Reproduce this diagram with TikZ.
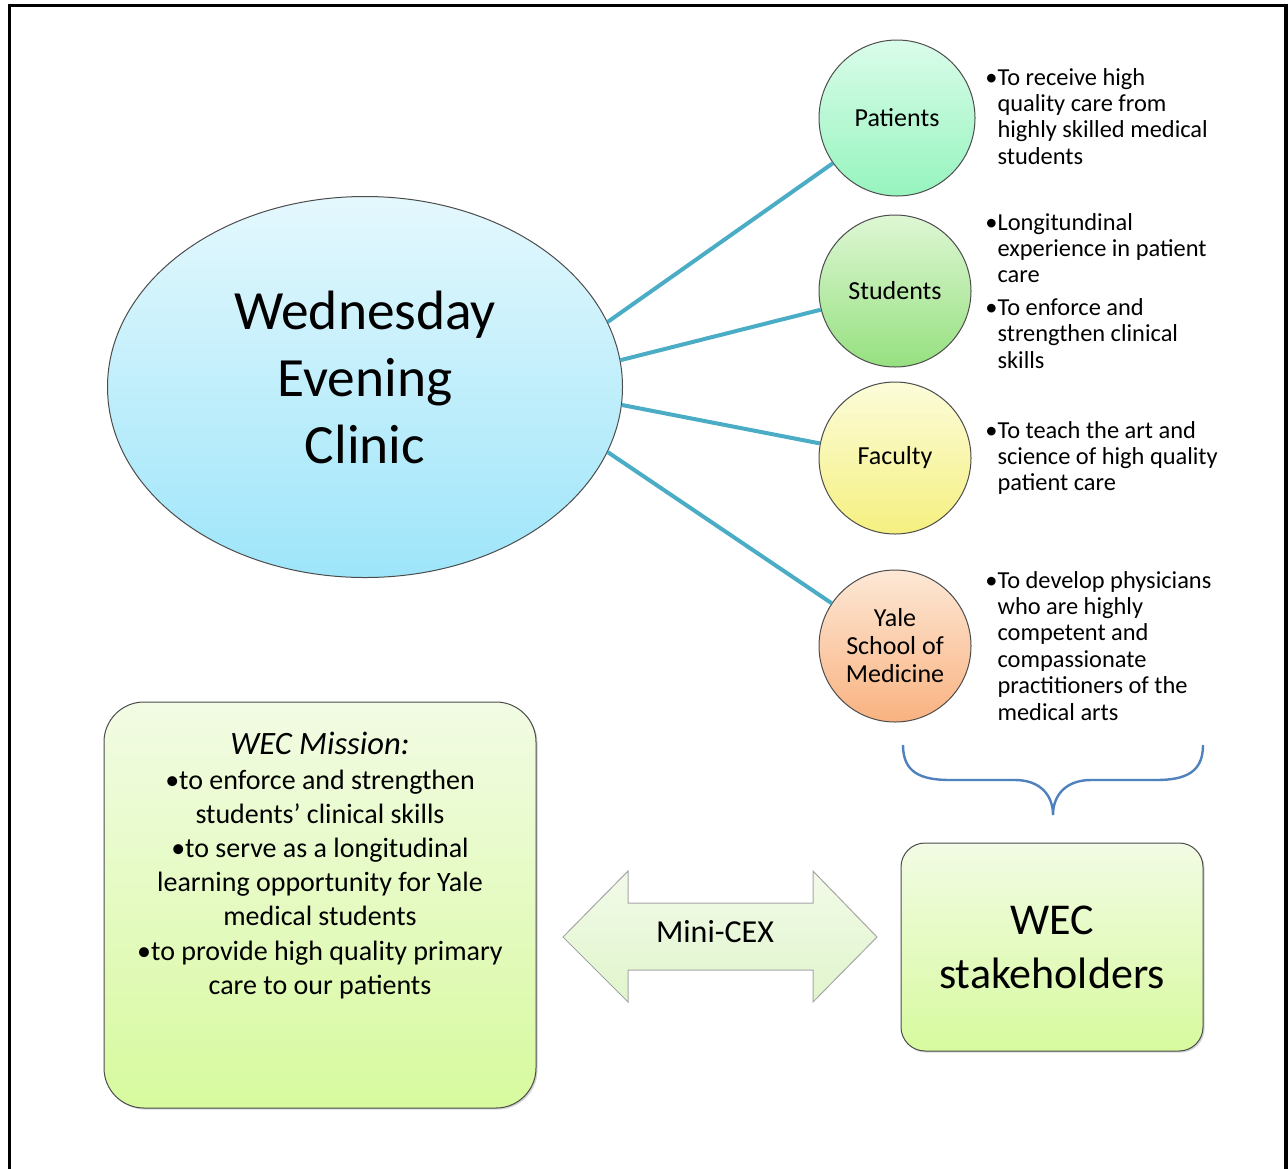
\documentclass[tikz,border=0pt]{standalone}
\usepackage{fontspec}
\setmainfont{Carlito}
\usepackage{xcolor}
\definecolor{linkteal}{RGB}{75,172,198}
\definecolor{bracesteel}{RGB}{79,129,189}
\definecolor{wectop}{RGB}{228,248,253}
\definecolor{wecbot}{RGB}{158,229,250}
\definecolor{pattop}{RGB}{218,252,234}
\definecolor{patbot}{RGB}{150,244,190}
\definecolor{stutop}{RGB}{222,247,212}
\definecolor{stubot}{RGB}{150,224,128}
\definecolor{factop}{RGB}{252,252,218}
\definecolor{facbot}{RGB}{245,240,128}
\definecolor{yaletop}{RGB}{253,232,214}
\definecolor{yalebot}{RGB}{249,178,128}
\definecolor{boxtop}{RGB}{242,251,228}
\definecolor{boxbot}{RGB}{215,250,158}
\definecolor{cextop}{RGB}{242,250,232}
\definecolor{cexbot}{RGB}{224,245,204}
\usetikzlibrary{positioning,shapes.geometric,shadows}
\tikzset{
  stake/.style={circle,draw=gray!60!black,line width=0.5pt,minimum size=76pt,inner sep=0pt,
    align=center,font=\fontsize{13}{14}\selectfont},
  link/.style={draw=linkteal,line width=2pt},
  note/.style={anchor=base west,inner sep=0pt,font=\fontsize{12.2}{13.2}\selectfont},
  greenbox/.style={rectangle,top color=boxtop,bottom color=boxbot,draw=gray!60!black,line width=0.5pt,
    drop shadow={opacity=0.35,shadow xshift=0.8pt,shadow yshift=-0.8pt}}
}
% bullet list with hanging lines
\newcommand{\notelist}[1]{\begin{tabular}[t]{@{}l@{\hspace{0pt}}l@{}}#1\end{tabular}}

\begin{document}
\begin{tikzpicture}[x=0.5pt,y=-0.5pt]
  \useasboundingbox (0,0) rectangle (1288,1168);
  \draw[line width=1.75pt] (9.5,1175) -- (9.5,5.5) -- (1286,5.5) -- (1286,1175);

  % hub
  \node[ellipse,minimum width=257.5pt,minimum height=190.5pt,inner sep=0pt,draw=gray!60!black,line width=0.5pt,
    top color=wectop,bottom color=wecbot] (wec) at (365,387) {};
  \node[align=center,font=\fontsize{27.7}{33.5}\selectfont] (wectxt) at ([yshift=5pt]wec.center) {Wednesday\\Evening\\Clinic};

  % stakeholders
  \node[stake,minimum size=78pt,top color=pattop,bottom color=patbot] (pat) at (897,118) {Patients};
  \node[stake,top color=stutop,bottom color=stubot] (stu) at (895,291) {Students};
  \node[stake,top color=factop,bottom color=facbot] (fac) at (895,458) {Faculty};
  \node[stake,top color=yaletop,bottom color=yalebot] (yale) at (895,646) {Yale\\School of\\Medicine};

  \draw[link] (wec.15) -- (pat);
  \draw[link] (wec.6) -- (stu);
  \draw[link] (wec.-4.5) -- (fac);
  \draw[link] (wec.-15) -- (yale);

  \node[note] (patnote) at (985,85) {\notelist{\textbullet & To receive high\\ & quality care from\\ & highly skilled medical\\ & students}};
  \node[note] (stunote) at (985,230) {\notelist{\textbullet & Longitundinal\\ & experience in patient\\ & care\\[3pt]
    \textbullet & To enforce and\\ & strengthen clinical\\ & skills}};
  \node[note] (facnote) at (985,438) {\notelist{\textbullet & To teach the art and\\ & science of high quality\\ & patient care}};
  \node[note] (yalenote) at (985,588) {\notelist{\textbullet & To develop physicians\\ & who are highly\\ & competent and\\ & compassionate\\ & practitioners of the\\ & medical arts}};

  % brace over the four groups
  \draw[bracesteel,line width=1.2pt] (903,745) .. controls (903,772) and (920,780) .. (950,780) -- (1015,780)
    .. controls (1040,780) and (1053,795) .. (1053,815) .. controls (1053,795) and (1066,780) .. (1091,780)
    -- (1156,780) .. controls (1186,780) and (1203,772) .. (1203,745);

  % bottom row
  \node[greenbox,rounded corners=20pt,minimum width=216pt,minimum height=203pt] (mission) at (320,905) {};
  \node[anchor=north,inner sep=0pt,align=center,font=\fontsize{14}{17.1}\selectfont] (missiontxt) at (320,732)
    {{\fontsize{16.3}{19}\selectfont\itshape WEC Mission:}\\\textbullet to enforce and strengthen\\students’ clinical skills\\
     \textbullet to serve as a longitudinal\\learning opportunity for Yale\\medical students\\
     \textbullet to provide high quality primary\\care to our patients};

  \node[greenbox,rounded corners=12pt,minimum width=151pt,minimum height=104pt,align=center,
    font=\fontsize{22}{27}\selectfont] (wecstake) at (1052,947) {WEC\\stakeholders};

  \draw[top color=cextop,bottom color=cexbot,draw=gray!70,line width=0.5pt]
    (563,937) -- (628,871) -- (628,903) -- (813,903) -- (813,871) -- (877,937)
    -- (813,1002) -- (813,970) -- (628,970) -- (628,1002) -- cycle;
  \node[font=\fontsize{16}{19}\selectfont] (cex) at (715,932) {Mini-CEX};
\end{tikzpicture}
\end{document}
